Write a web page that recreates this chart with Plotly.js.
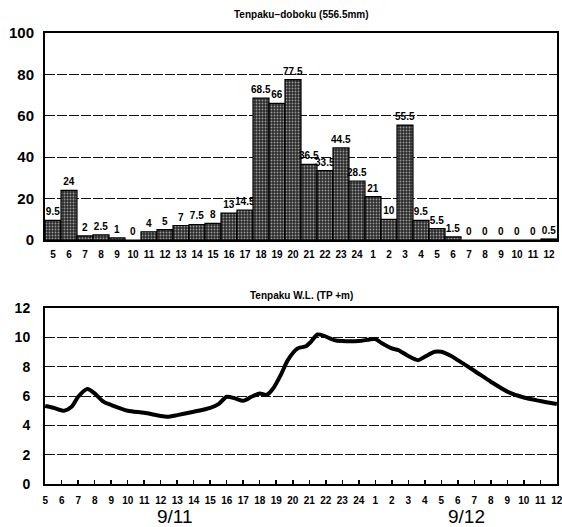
<!DOCTYPE html>
<html>
<head>
<meta charset="utf-8">
<script src="https://cdn.plot.ly/plotly-3.0.1.min.js"></script>
<style>html,body{margin:0;padding:0;background:#fff;}#chart{width:562px;height:527px;}</style>
</head>
<body>
<div id="chart"></div>
<script>
// Hour labels (9/11 05h .. 9/12 12h)
const hourLabels = ["5","6","7","8","9","10","11","12","13","14","15","16","17","18","19","20","21","22","23","24","1","2","3","4","5","6","7","8","9","10","11","12"];
// Hourly rainfall at Tenpaku-doboku (mm)
const rain = [9.5,24,2,2.5,1,0,4,5,7,7.5,8,13,14.5,68.5,66,77.5,36.5,33.5,44.5,28.5,21,10,55.5,9.5,5.5,1.5,0,0,0,0,0,0.5];
// Water level (TP +m): position in hours from 9/11 05h, level
const wlPos = [0,0.5,1.15,1.6,2,2.55,3,3.55,4,5,6,7,7.4,8,9,10,10.5,11,11.5,12,12.5,13,13.4,13.8,14.3,14.7,15.3,15.8,16.1,16.5,16.9,17.5,18,19,20,20.4,21,21.4,22,22.6,23,23.6,24,24.6,25,26,27,28,29,30,31];
const wlVal = [5.32,5.2,5.0,5.27,5.95,6.48,6.18,5.6,5.39,5.0,4.86,4.64,4.59,4.7,4.93,5.2,5.45,5.95,5.84,5.68,5.95,6.18,6.07,6.5,7.5,8.45,9.25,9.4,9.7,10.2,10.1,9.82,9.75,9.75,9.89,9.6,9.25,9.14,8.73,8.45,8.68,9.02,9.02,8.73,8.45,7.73,6.98,6.3,5.9,5.66,5.45];
const rainTicks = [0,20,40,60,80,100];
const wlTicks = [0,2,4,6,8,10,12];

const idx = hourLabels.map((_, i) => i);
const FONT = "Liberation Sans, Arial, sans-serif";

const traces = [
  {
    type: "bar", x: idx, y: rain, xaxis: "x", yaxis: "y",
    text: rain.map(String), textposition: "outside", cliponaxis: false, constraintext: "none",
    textfont: {family: FONT, size: 10, color: "#000", weight: "bold"},
    marker: {color: "#2e2e2e", line: {color: "#000", width: 1.2},
      pattern: {shape: ".", fgcolor: "#9a9a9a", bgcolor: "#2a2a2a", size: 3, solidity: 0.3}},
    hoverinfo: "none"
  },
  {
    type: "scatter", mode: "lines", x: wlPos, y: wlVal, xaxis: "x2", yaxis: "y2",
    line: {color: "#000", width: 4, shape: "spline", smoothing: 0.7},
    hoverinfo: "none"
  }
];

const axisCommon = {
  showline: true, linecolor: "#000", linewidth: 2, mirror: true,
  zeroline: false, fixedrange: true
};

const layout = {
  width: 562, height: 527,
  margin: {l: 45, r: 5, t: 33, b: 43},
  paper_bgcolor: "#fff", plot_bgcolor: "#fff",
  showlegend: false, bargap: 0,
  uniformtext: {mode: "show", minsize: 10},
  font: {family: FONT, color: "#000"},
  xaxis: Object.assign({}, axisCommon, {
    domain: [0, 1], anchor: "y", range: [-0.5, 31.5],
    tickmode: "array", tickvals: idx, ticktext: hourLabels,
    tickfont: {family: FONT, size: 10, weight: "bold"}, ticks: "", showgrid: false, ticklabelstandoff: 4
  }),
  yaxis: Object.assign({}, axisCommon, {
    domain: [0.541, 1], anchor: "x", range: [0, 100],
    tickmode: "array", tickvals: rainTicks,
    tickfont: {family: FONT, size: 15, weight: "bold"},
    showgrid: true, gridcolor: "#111", gridwidth: 1, griddash: "10px,2px", ticks: "", ticklabelstandoff: 6
  }),
  xaxis2: Object.assign({}, axisCommon, {
    domain: [0, 1], anchor: "y2", range: [-0.01, 31.01],
    tickmode: "array", tickvals: idx, ticktext: hourLabels,
    tickfont: {family: FONT, size: 10, weight: "bold"}, ticks: "inside", ticklen: 4, tickwidth: 1.5, tickcolor: "#000",
    showgrid: false, ticklabelstandoff: 6, ticklabeloverflow: "allow"
  }),
  yaxis2: Object.assign({}, axisCommon, {
    domain: [0, 0.39], anchor: "x2", range: [0, 12],
    tickmode: "array", tickvals: wlTicks,
    tickfont: {family: FONT, size: 14, weight: "bold"},
    showgrid: true, gridcolor: "#111", gridwidth: 1, griddash: "10px,2px", ticks: "", ticklabelstandoff: 10
  }),
  annotations: [
    {text: "Tenpaku−doboku (556.5mm)", xref: "paper", yref: "paper", x: 0.5, y: 1.04, xanchor: "center", yanchor: "middle",
      showarrow: false, font: {family: FONT, size: 10, weight: "bold"}},
    {text: "Tenpaku W.L. (TP +m)", xref: "paper", yref: "paper", x: 0.5, y: 0.418, xanchor: "center", yanchor: "middle",
      showarrow: false, font: {family: FONT, size: 10, weight: "bold"}},
    {text: "9/11", xref: "paper", yref: "paper", x: 0.254, y: -0.073, xanchor: "center", yanchor: "middle",
      showarrow: false, font: {family: FONT, size: 19}},
    {text: "9/12", xref: "paper", yref: "paper", x: 0.824, y: -0.073, xanchor: "center", yanchor: "middle",
      showarrow: false, font: {family: FONT, size: 19}}
  ]
};

Plotly.newPlot("chart", traces, layout, {displayModeBar: false, staticPlot: true});
</script>
</body>
</html>
